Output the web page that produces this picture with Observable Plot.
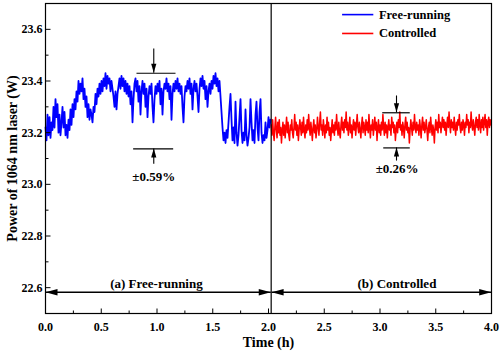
<!DOCTYPE html>
<html>
<head>
<meta charset="utf-8">
<script src="https://cdn.jsdelivr.net/npm/d3@7"></script>
<script src="https://cdn.jsdelivr.net/npm/@observablehq/plot@0.6"></script>
<style>
  html, body { margin: 0; padding: 0; background: #fff; }
  #chart { width: 500px; height: 351px; }
</style>
</head>
<body>
<div id="chart"></div>
<script>
// ---------- data ----------
const seriesNames = ["Free-running", "Controlled"];
const seriesColors = ["#0000ff", "#ff0000"];
const xTicks = [0, 0.5, 1.0, 1.5, 2.0, 2.5, 3.0, 3.5, 4.0];
const xMinorTicks = [0.25, 0.75, 1.25, 1.75, 2.25, 2.75, 3.25, 3.75];
const yTicks = [22.6, 22.8, 23.0, 23.2, 23.4, 23.6];
const yMinorTicks = [22.7, 22.9, 23.1, 23.3, 23.5];
const xLabel = "Time (h)";
const yLabel = "Power of 1064 nm laser (W)";

// free-running power (W), sampled evenly from 0 h to 2.018 h
const blueStart = 0, blueEnd = 2.018;
const blueValues = [
  23.22,23.17,23.27,23.19,23.26,23.18,23.24,23.21,23.30,23.22,
  23.33,23.26,23.31,23.20,23.27,23.19,23.24,23.30,23.22,23.28,
  23.19,23.23,23.18,23.25,23.21,23.29,23.23,23.31,23.26,23.33,
  23.29,23.36,23.32,23.40,23.35,23.39,23.36,23.41,23.33,23.37,
  23.30,23.34,23.26,23.31,23.25,23.29,23.27,23.24,23.30,23.28,
  23.35,23.31,23.37,23.34,23.39,23.35,23.40,23.36,23.41,23.38,
  23.43,23.37,23.42,23.39,23.41,23.36,23.40,23.37,23.34,23.30,
  23.36,23.29,23.35,23.38,23.41,23.37,23.42,23.38,23.41,23.36,
  23.40,23.35,23.39,23.34,23.38,23.31,23.36,23.24,23.33,23.39,
  23.41,23.36,23.40,23.32,23.38,23.27,23.36,23.40,23.35,23.39,
  23.30,23.37,23.26,23.34,23.38,23.35,23.39,23.30,23.24,23.33,
  23.38,23.35,23.39,23.36,23.40,23.31,23.37,23.27,23.36,23.39,
  23.37,23.41,23.36,23.39,23.33,23.38,23.25,23.35,23.39,23.36,
  23.40,23.37,23.41,23.36,23.39,23.35,23.38,23.30,23.24,23.34,
  23.38,23.36,23.40,23.37,23.41,23.35,23.39,23.29,23.37,23.40,
  23.36,23.39,23.34,23.28,23.37,23.41,23.38,23.42,23.37,23.40,
  23.33,23.38,23.30,23.36,23.39,23.35,23.40,23.37,23.42,23.39,
  23.43,23.38,23.41,23.36,23.40,23.34,23.28,23.22,23.17,23.20,
  23.16,23.21,23.18,23.24,23.30,23.35,23.25,23.17,23.22,23.16,
  23.32,23.20,23.15,23.19,23.26,23.33,23.21,23.16,23.20,23.17,
  23.29,23.19,23.15,23.18,23.22,23.33,23.24,23.17,23.21,23.16,
  23.27,23.32,23.22,23.17,23.28,23.33,23.20,23.16,23.19,23.17,
  23.24,23.18,23.21,23.26,23.22,23.25
];

// controlled power (W), sampled evenly from 2.024 h to 3.995 h
const redStart = 2.024, redEnd = 3.995;
const redValues = [
  23.23,23.19,23.25,23.20,23.17,23.22,23.26,23.21,23.18,23.24,
  23.20,23.25,23.19,23.22,23.16,23.21,23.24,23.19,23.23,23.18,
  23.22,23.26,23.20,23.24,23.19,23.17,23.23,23.21,23.25,23.20,
  23.18,23.22,23.27,23.21,23.24,23.19,23.23,23.17,23.21,23.25,
  23.22,23.19,23.24,23.20,23.26,23.21,23.18,23.23,23.20,23.25,
  23.21,23.27,23.22,23.19,23.24,23.21,23.17,23.22,23.25,23.20,
  23.23,23.18,23.21,23.26,23.22,23.19,23.24,23.28,23.21,23.23,
  23.19,23.25,23.22,23.18,23.23,23.20,23.26,23.21,23.24,23.19,
  23.22,23.17,23.21,23.25,23.20,23.23,23.19,23.24,23.21,23.27,
  23.22,23.19,23.24,23.20,23.18,23.23,23.26,23.21,23.24,23.20,
  23.25,23.22,23.28,23.21,23.24,23.19,23.22,23.26,23.20,23.23,
  23.18,23.22,23.25,23.21,23.24,23.19,23.23,23.27,23.22,23.20,
  23.24,23.21,23.18,23.23,23.26,23.20,23.24,23.22,23.19,23.25,
  23.21,23.24,23.20,23.27,23.22,23.18,23.23,23.21,23.25,23.19,
  23.22,23.26,23.21,23.24,23.17,23.22,23.25,23.20,23.23,23.19,
  23.24,23.21,23.27,23.22,23.19,23.24,23.20,23.23,23.18,23.22,
  23.25,23.21,23.23,23.19,23.26,23.22,23.24,23.20,23.23,23.17,
  23.21,23.24,23.20,23.25,23.22,23.28,23.21,23.23,23.19,23.24,
  23.22,23.18,23.23,23.26,23.21,23.24,23.20,23.22,23.16,23.21,
  23.25,23.22,23.19,23.24,23.21,23.27,23.22,23.20,23.24,23.21,
  23.23,23.19,23.25,23.22,23.18,23.23,23.26,23.21,23.24,23.20,
  23.22,23.25,23.21,23.17,23.22,23.24,23.20,23.26,23.22,23.19,
  23.23,23.21,23.16,23.22,23.25,23.21,23.24,23.20,23.27,23.22,
  23.24,23.20,23.23,23.26,23.22,23.25,23.21,23.24,23.19,23.23,
  23.26,23.22,23.28,23.23,23.20,23.25,23.22,23.24,23.21,23.26,
  23.22,23.19,23.24,23.21,23.25,23.23,23.27,23.22,23.20,23.24,
  23.21,23.25,23.23,23.19,23.24,23.22,23.27,23.23,23.25,23.20,
  23.24,23.22,23.28,23.23,23.21,23.25,23.22,23.19,23.24,23.26,
  23.22,23.25,23.21,23.27,23.23,23.20,23.25,23.22,23.26,23.21,
  23.24,23.27,23.22,23.25,23.19,23.24,23.26,23.22,23.25,23.23
];

// annotations (data units)
const dividerTime = 2.024;
const bracketBars = [
  {x1: 0.816, x2: 1.166, y: 23.430},
  {x1: 0.786, x2: 1.145, y: 23.1375},
  {x1: 3.020, x2: 3.267, y: 23.277},
  {x1: 3.029, x2: 3.267, y: 23.141}
];
const pointerArrows = [
  {x: 0.971, from: 23.526, to: 23.432},
  {x: 0.971, from: 23.080, to: 23.139},
  {x: 3.148, from: 23.344, to: 23.279},
  {x: 3.148, from: 23.092, to: 23.143}
];
const percentLabels = [
  {x: 0.971, y: 23.0275, text: "±0.59%"},
  {x: 3.154, y: 23.060, text: "±0.26%"}
];
const spanArrows = [
  {x1: 0, x2: 2.020, y: 22.582, label: "(a) Free-running", lx: 0.995, ly: 22.615},
  {x1: 2.028, x2: 3.997, y: 22.582, label: "(b) Controlled", lx: 3.152, ly: 22.615}
];
const legendLayout = {x1: 2.66, x2: 2.94, tx: 2.99, ys: [23.657, 23.584]};

// ---------- build ----------
const blueDt = (blueEnd - blueStart) / (blueValues.length - 1);
const redDt = (redEnd - redStart) / (redValues.length - 1);
const blue = blueValues.map((v, i) => ({t: blueStart + i * blueDt, v}));
const red = redValues.map((v, i) => ({t: redStart + i * redDt, v}));

// custom symbols (tip at origin)
const headDown = {draw(c) { c.moveTo(0, 0); c.lineTo(-2.6, -9); c.lineTo(2.6, -9); c.closePath(); }};
const headUp = {draw(c) { c.moveTo(0, 0); c.lineTo(-2.6, 9); c.lineTo(2.6, 9); c.closePath(); }};
const headLeft = {draw(c) { c.moveTo(0, 0); c.lineTo(12, -3.2); c.lineTo(12, 3.2); c.closePath(); }};
const headRight = {draw(c) { c.moveTo(0, 0); c.lineTo(-12, -3.2); c.lineTo(-12, 3.2); c.closePath(); }};
const tickUpMajor = {draw(c) { c.moveTo(0, 0); c.lineTo(0, -5); }};
const tickUpMinor = {draw(c) { c.moveTo(0, 0); c.lineTo(0, -3); }};
const tickRightMajor = {draw(c) { c.moveTo(0, 0); c.lineTo(5, 0); }};
const tickRightMinor = {draw(c) { c.moveTo(0, 0); c.lineTo(3, 0); }};

const downHeads = pointerArrows.filter(a => a.to < a.from);
const upHeads = pointerArrows.filter(a => a.to > a.from);

const legend = seriesNames.map((name, i) => ({name, color: seriesColors[i], y: legendLayout.ys[i]}));

const serif = "'Liberation Serif', 'Times New Roman', serif";

const chart = Plot.plot({
  width: 500,
  height: 351,
  marginLeft: 45,
  marginRight: 9,
  marginTop: 3,
  marginBottom: 38,
  style: {fontFamily: serif, fontWeight: "bold", fontSize: "12px", color: "black", background: "white"},
  x: {domain: [0, 4]},
  y: {domain: [22.5, 23.7]},
  marks: [
    // series
    Plot.line(blue, {x: "t", y: "v", stroke: seriesColors[0], strokeWidth: 1.8}),
    Plot.line(red, {x: "t", y: "v", stroke: seriesColors[1], strokeWidth: 1.5}),
    // divider
    Plot.ruleX([dividerTime], {stroke: "black", strokeWidth: 1.2}),
    // bracket bars & shafts
    Plot.link(bracketBars, {x1: "x1", x2: "x2", y1: "y", y2: "y", stroke: "black", strokeWidth: 1.2}),
    Plot.link(pointerArrows, {x1: "x", x2: "x", y1: "from", y2: "to", stroke: "black", strokeWidth: 1.1}),
    Plot.link(spanArrows, {x1: "x1", x2: "x2", y1: "y", y2: "y", stroke: "black", strokeWidth: 1.4}),
    // arrowheads
    Plot.dot(downHeads, {x: "x", y: "to", symbol: headDown, fill: "black", stroke: "none"}),
    Plot.dot(upHeads, {x: "x", y: "to", symbol: headUp, fill: "black", stroke: "none"}),
    Plot.dot(spanArrows, {x: "x1", y: "y", symbol: headLeft, fill: "black", stroke: "none"}),
    Plot.dot(spanArrows, {x: "x2", y: "y", symbol: headRight, fill: "black", stroke: "none"}),
    // annotation text
    Plot.text(percentLabels, {x: "x", y: "y", text: "text", fontSize: 13, fontWeight: "bold", fill: "black"}),
    Plot.text(spanArrows, {x: "lx", y: "ly", text: "label", fontSize: 13, fontWeight: "bold", fill: "black"}),
    // legend
    Plot.link(legend, {x1: () => legendLayout.x1, x2: () => legendLayout.x2, y1: "y", y2: "y", stroke: "color", strokeWidth: 1.6}),
    Plot.text(legend, {x: () => legendLayout.tx, y: "y", text: "name", textAnchor: "start", fontSize: 12.5, fontWeight: "bold", fill: "black"}),
    // frame
    Plot.frame({stroke: "black", strokeWidth: 1.2}),
    // inward ticks
    Plot.dot(xTicks, {x: d => d, frameAnchor: "bottom", symbol: tickUpMajor, stroke: "black", fill: "none", strokeWidth: 1}),
    Plot.dot(xMinorTicks, {x: d => d, frameAnchor: "bottom", symbol: tickUpMinor, stroke: "black", fill: "none", strokeWidth: 1}),
    Plot.dot(yTicks, {y: d => d, frameAnchor: "left", symbol: tickRightMajor, stroke: "black", fill: "none", strokeWidth: 1}),
    Plot.dot(yMinorTicks, {y: d => d, frameAnchor: "left", symbol: tickRightMinor, stroke: "black", fill: "none", strokeWidth: 1}),
    // axes labels
    Plot.axisX({ticks: xTicks, tickSize: 0, tickPadding: 9, tickFormat: d => d.toFixed(1), label: null, fontSize: 12, fontWeight: "bold"}),
    Plot.axisY({ticks: yTicks, tickSize: 0, tickPadding: 3, tickFormat: d => d.toFixed(1), label: null, fontSize: 12, fontWeight: "bold"}),
    Plot.text([xLabel], {frameAnchor: "bottom", dy: 29, lineAnchor: "middle", textAnchor: "middle", text: d => d, fontSize: 14, fontWeight: "bold", fill: "black"}),
    Plot.text([yLabel], {frameAnchor: "left", dx: -33, rotate: -90, lineAnchor: "middle", textAnchor: "middle", text: d => d, fontSize: 14, fontWeight: "bold", fill: "black"})
  ]
});

document.getElementById("chart").appendChild(chart);
</script>
</body>
</html>
